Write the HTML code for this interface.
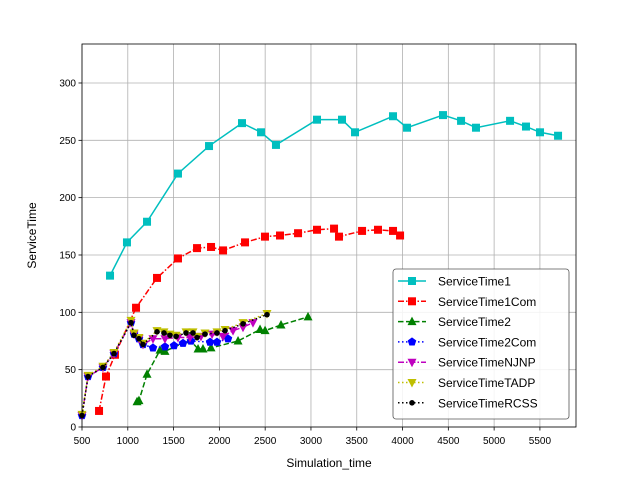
<!DOCTYPE html>
<html><head><meta charset="utf-8"><style>
body{margin:0;background:#fff;}
svg{font-family:"Liberation Sans","DejaVu Sans",sans-serif;}
</style></head><body>
<svg id="chart" width="640" height="480" xmlns="http://www.w3.org/2000/svg"></svg>
<script>
const xTicks=[500,1000,1500,2000,2500,3000,3500,4000,4500,5000,5500];
const yTicks=[0,50,100,150,200,250,300];
const st1X=[806,991,1210,1548,1887,2247,2455,2618,3066,3339,3481,3896,4049,4442,4639,4802,5174,5348,5501,5698];
const st1Y=[132,161,179,221,245,265,257,246,268,268,257,271,261,272,267,261,267,262,257,254];
const st1cX=[686,762,860,1090,1319,1548,1756,1909,2040,2280,2498,2662,2859,3066,3252,3306,3558,3732,3896,3973];
const st1cY=[14,44,63,104,130,147,156,157,154,161,166,167,169,172,173,166,171,172,171,167];
const st2X=[1101,1122,1210,1352,1406,1679,1767,1821,1909,2204,2444,2499,2673,2968];
const st2Y=[22,23,46,67,66,76,68,68,69,75,85,84,89,96];
const st2cX=[500,566,729,849,1035,1068,1122,1166,1275,1406,1505,1603,1690,1898,1974,2094];
const st2cY=[10,44,52,64,91,81,77,72,69,70,71,73,75,74,74,77];
const njX=[500,566,729,849,1035,1068,1122,1166,1275,1406,1548,1679,1799,1920,2040,2149,2258,2367];
const njY=[10,44,52,64,91,81,77,72,77,77,78,78,79,81,79,84,87,91];
const taX=[500,566,729,849,1035,1068,1122,1166,1319,1395,1461,1527,1636,1712,1756,1843,1974,2062,2258,2520];
const taY=[11,45,53,65,93,82,78,73,84,83,81,80,83,83,79,82,83,85,91,99];
const rcX=[500,566,729,849,1035,1068,1122,1166,1319,1395,1461,1527,1636,1712,1756,1843,1974,2062,2258,2520];
const rcY=[10,44,52,64,91,80,77,72,83,82,80,79,82,82,78,81,82,84,90,98];

const L=82,R=576,T=44,B=427,XMIN=500,XMAX=5894,YMIN=0,YMAX=334;
const sx=v=>L+(v-XMIN)/(XMAX-XMIN)*(R-L);
const sy=v=>B-(v-YMIN)/(YMAX-YMIN)*(B-T);
const svg=document.getElementById('chart');
const NS='http://www.w3.org/2000/svg';
function mk(tag,at,parent){const e=document.createElementNS(NS,tag);for(const k in at)e.setAttribute(k,at[k]);(parent||svg).appendChild(e);return e;}

// grid & ticks
xTicks.forEach(t=>{
  const g=mk('line',{x1:sx(t),x2:sx(t),y1:T,y2:B,stroke:'#b0b0b0','stroke-width':0.8});
  
  
  mk('line',{x1:sx(t),x2:sx(t),y1:B,y2:B+3.5,stroke:'#000','stroke-width':0.8});
  const tx=mk('text',{x:sx(t),y:B+17,'text-anchor':'middle','font-size':10});
  tx.textContent=t;
  
  
});
yTicks.forEach(t=>{
  const g=mk('line',{x1:L,x2:R,y1:sy(t),y2:sy(t),stroke:'#b0b0b0','stroke-width':0.8});
  
  
  mk('line',{x1:L-3.5,x2:L,y1:sy(t),y2:sy(t),stroke:'#000','stroke-width':0.8});
  const tx=mk('text',{x:L-6,y:sy(t)+3.5,'text-anchor':'end','font-size':10});
  tx.textContent=t;
  
  
});

function marker(type,x,y,color,g){
  if(type==='s')mk('rect',{x:x-4,y:y-4,width:8,height:8,fill:color},g);
  else if(type==='^')mk('polygon',{points:`${x},${y-5} ${x-4.5},${y+3.5} ${x+4.5},${y+3.5}`,fill:color},g);
  else if(type==='v')mk('polygon',{points:`${x},${y+5} ${x-4.5},${y-3.5} ${x+4.5},${y-3.5}`,fill:color},g);
  else if(type==='p'){let p=[];for(let i=0;i<5;i++){const a=-Math.PI/2+i*2*Math.PI/5;p.push((x+4.5*Math.cos(a))+','+(y+4.5*Math.sin(a)));}mk('polygon',{points:p.join(' '),fill:color},g);}
  else if(type==='o')mk('circle',{cx:x,cy:y,r:2.8,fill:color},g);
}
const series=[
 {name:'ServiceTime1',xs:st1X,ys:st1Y,c:'#00bfbf',d:'',m:'s',id:'series-servicetime1'},
 {name:'ServiceTime1Com',xs:st1cX,ys:st1cY,c:'#ff0000',d:'6 2 1.5 2',m:'s',id:'series-servicetime1com'},
 {name:'ServiceTime2',xs:st2X,ys:st2Y,c:'#008000',d:'5.5 2.5',m:'^',id:'series-servicetime2'},
 {name:'ServiceTime2Com',xs:st2cX,ys:st2cY,c:'#0000ff',d:'1.5 2.5',m:'p',id:'series-servicetime2com'},
 {name:'ServiceTimeNJNP',xs:njX,ys:njY,c:'#bf00bf',d:'6 2 1.5 2',m:'v',id:'series-servicetimenjnp'},
 {name:'ServiceTimeTADP',xs:taX,ys:taY,c:'#bfbf00',d:'1.5 2.5',m:'v',id:'series-servicetimetadp'},
 {name:'ServiceTimeRCSS',xs:rcX,ys:rcY,c:'#000000',d:'1.5 2.5',m:'o',id:'series-servicetimercss'}
];
series.forEach(s=>{
  const g=mk('g',{});
  
  
  const pts=s.xs.map((v,i)=>sx(v)+','+sy(s.ys[i])).join(' ');
  const at={points:pts,fill:'none',stroke:s.c,'stroke-width':1.5};
  if(s.d)at['stroke-dasharray']=s.d;
  mk('polyline',at,g);
  s.xs.forEach((v,i)=>marker(s.m,sx(v),sy(s.ys[i]),s.c,g));
});
// frame
const fr=mk('rect',{x:L,y:T,width:R-L,height:B-T,fill:'none',stroke:'#000','stroke-width':0.8});


const xl=mk('text',{x:(L+R)/2,y:467,'text-anchor':'middle','font-size':12});
xl.textContent='Simulation_time';


const yl=mk('text',{x:0,y:0,'text-anchor':'middle','font-size':12,transform:`translate(36,${(T+B)/2}) rotate(-90)`});
yl.textContent='ServiceTime';


// legend
const lg=mk('g',{});


mk('rect',{x:393,y:269,width:176,height:150,rx:3,fill:'#fff','fill-opacity':0.85,stroke:'#555','stroke-width':0.8},lg);
series.forEach((s,i)=>{
  const y=281+i*20.3;
  const e=mk('g',{},lg);
  
  
  const at={x1:398,x2:426,y1:y,y2:y,stroke:s.c,'stroke-width':1.5};
  if(s.d)at['stroke-dasharray']=s.d;
  mk('line',at,e);
  marker(s.m,412,y,s.c,e);
  const t=mk('text',{x:438,y:y+4.5,'font-size':12},e);
  t.textContent=s.name;
});
</script>
</body></html>
